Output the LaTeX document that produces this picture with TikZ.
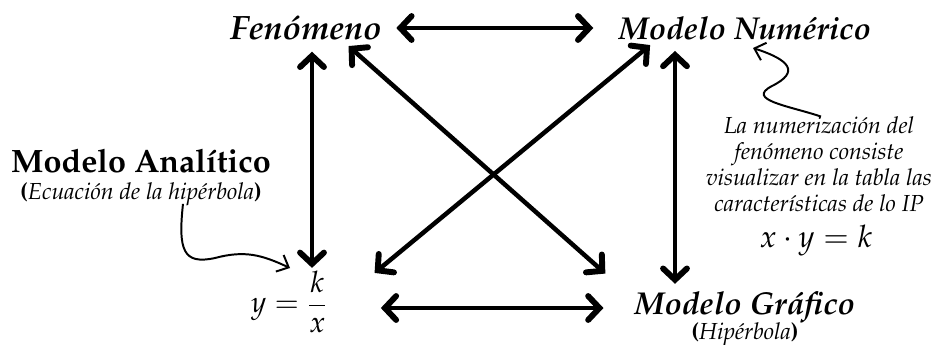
\documentclass[tikz,border=0pt]{standalone}
\usepackage[T1]{fontenc}
\usepackage{amsmath}
\usepackage{mathpazo}
\usetikzlibrary{calc,arrows.meta}
\tikzset{
  model title/.style={font=\fontsize{22.5}{26}\selectfont\bfseries\itshape,inner sep=0pt},
  model sub/.style={font=\fontsize{16.5}{19}\selectfont\itshape,inner sep=0pt},
  note text/.style={font=\fontsize{16.5}{18.6}\selectfont\itshape,align=center,inner sep=1pt},
  link arrow/.style={line width=3.2pt,{Straight Barb[length=8pt,width=17pt,line width=4.2pt,line cap=round]}-{Straight Barb[length=8pt,width=17pt,line width=4.2pt,line cap=round]}},
  curl arrow/.style={line width=1.4pt,-{Straight Barb[length=7pt,width=13pt]}},
}
\newcommand{\bpar}[1]{\textup{\textbf{#1}}}
\begin{document}
\begin{tikzpicture}[x=0.025cm,y=-0.025cm]
\useasboundingbox (0,0) rectangle (940,344);
% nodes
\node[model title,font=\fontsize{24}{28}\selectfont\bfseries\itshape] (fen) at (306,28) {Fen\'omeno};
\node[model title] (num) at (745,28) {Modelo Num\'erico};
\node[model title,font=\fontsize{23}{27}\selectfont\bfseries] (ana) at (141,161) {Modelo Anal\'itico};
\node[model sub] (anasub) at (141,194) {\bpar{(}Ecuaci\'on de la hip\'erbola\bpar{)}};
\node[inner sep=0pt,font=\fontsize{21}{25}\selectfont] (hyp) at (289,302) {$y=\dfrac{k}{x}$};
\node[model title] (graf) at (745,308) {Modelo Gr\'afico};
\node[model sub] (grafsub) at (745,334) {\bpar{(}Hip\'erbola\bpar{)}};
\node[note text] (note) at (819,164) {La numerizaci\'on del\\fen\'omeno consiste\\visualizar en la tabla las\\caracter\'isticas de lo IP};
\node[font=\fontsize{22}{26}\selectfont] (xyk) at (816,241) {$x\cdot y=k$};
% connectors
\draw[link arrow,shorten <=10pt,shorten >=18pt] (fen.east) -- (num.west);
\draw[link arrow,shorten <=8pt,shorten >=2pt] ([xshift=6*0.025cm]fen.south) -- ([xshift=6*0.025cm]fen.south |- hyp.north);
\draw[link arrow,shorten <=8pt,shorten >=6pt] ([xshift=-70*0.025cm]num.south) -- ([xshift=-70*0.025cm]graf.north);
\draw[link arrow,shorten <=6pt,shorten >=20pt] ([xshift=-40*0.025cm]fen.south east) -- ([xshift=-8*0.025cm]graf.north west);
\draw[link arrow,shorten <=6pt,shorten >=2pt] ([xshift=38*0.025cm]num.south west) -- ([xshift=45*0.025cm,yshift=-4*0.025cm]hyp.north east);
\draw[link arrow,shorten <=38pt,shorten >=22pt] (hyp.east |- graf.west) -- (graf.west);
% curly pointers
\coordinate (anatip) at (290,268);
\draw[curl arrow] ([xshift=42*0.025cm,yshift=2*0.025cm]anasub.south) .. controls (178,250) and (183,265) .. (215,258) .. controls (245,250) and (262,255) .. (anatip);
\coordinate (numtip) at (753,48);
\draw[curl arrow] ([xshift=2*0.025cm,yshift=-2*0.025cm]note.north) .. controls (790,106) and (745,100) .. (772,86) .. controls (800,72) and (790,60) .. (numtip);
\end{tikzpicture}
\end{document}
